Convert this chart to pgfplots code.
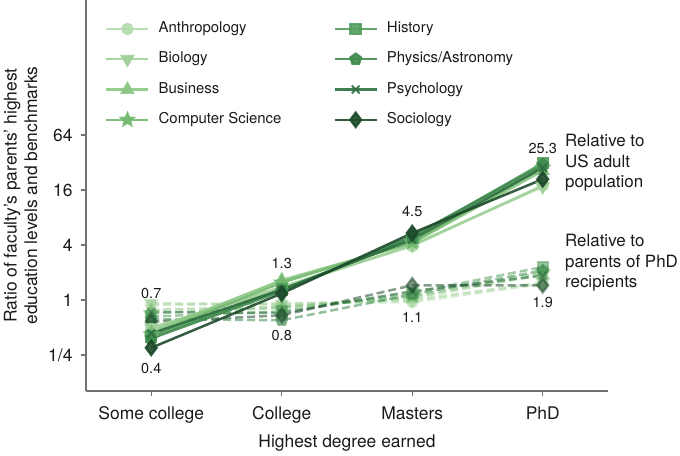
\documentclass[border=0pt]{standalone}
\usepackage{pgfplots}
\usepackage{pgfplotstable}
\pgfplotsset{compat=1.18}
\usepackage{fontspec}
\setmainfont{TeX Gyre Heros}
\usetikzlibrary{plotmarks}

\definecolor{cAnth}{HTML}{B4DCAE}
\definecolor{cBio}{HTML}{A0D199}
\definecolor{cBus}{HTML}{8AC684}
\definecolor{cCS}{HTML}{73B86F}
\definecolor{cHist}{HTML}{539E5E}
\definecolor{cPhys}{HTML}{3F8A4E}
\definecolor{cPsych}{HTML}{2E6E3F}
\definecolor{cSoc}{HTML}{1D4A2B}
\definecolor{spine}{HTML}{707070}
\definecolor{txt}{HTML}{1A1A1A}

\pgfdeclareplotmark{fstar}{%
 \pgfpathmoveto{\pgfpointpolar{90}{\pgfplotmarksize}}%
 \pgfpathlineto{\pgfpointpolar{126}{0.45\pgfplotmarksize}}%
 \pgfpathlineto{\pgfpointpolar{162}{\pgfplotmarksize}}%
 \pgfpathlineto{\pgfpointpolar{198}{0.45\pgfplotmarksize}}%
 \pgfpathlineto{\pgfpointpolar{234}{\pgfplotmarksize}}%
 \pgfpathlineto{\pgfpointpolar{270}{0.45\pgfplotmarksize}}%
 \pgfpathlineto{\pgfpointpolar{306}{\pgfplotmarksize}}%
 \pgfpathlineto{\pgfpointpolar{342}{0.45\pgfplotmarksize}}%
 \pgfpathlineto{\pgfpointpolar{18}{\pgfplotmarksize}}%
 \pgfpathlineto{\pgfpointpolar{54}{0.45\pgfplotmarksize}}%
 \pgfpathclose
 \pgfusepathqfillstroke}

% Relative to US adult population
\pgfplotstableread{
x Anth Bio Bus CS Hist Phys Psych Soc
0 0.48 0.50 0.45 0.42 0.40 0.38 0.43 0.30
1 1.40 1.35 1.65 1.55 1.30 1.25 1.30 1.18
2 3.9 4.0 4.2 4.3 4.8 5.0 4.6 5.4
3 18 17.5 26 28 31.5 30 28 21
}\usdata

% Relative to parents of PhD recipients
\pgfplotstableread{
x Anth Bio Bus CS Hist Phys Psych Soc
0 0.88 0.92 0.78 0.72 0.66 0.62 0.74 0.58
1 0.92 0.90 0.85 0.82 0.75 0.60 0.72 0.68
2 0.95 1.00 1.05 1.10 1.20 1.15 1.25 1.45
3 1.50 1.55 1.90 2.00 2.30 2.10 1.85 1.45
}\phddata

\pgfplotsset{
 fAnth/.style={color=cAnth, mark=*, mark size=5bp},
 fBio/.style={color=cBio, mark=triangle*, mark size=6bp, every mark/.append style={rotate=180}},
 fBus/.style={color=cBus, mark=triangle*, mark size=6bp},
 fCS/.style={color=cCS, mark=fstar, mark size=6bp},
 fHist/.style={color=cHist, mark=square*, mark size=5bp},
 fPhys/.style={color=cPhys, mark=pentagon*, mark size=5.5bp},
 fPsych/.style={color=cPsych, mark=x, mark size=5.5bp, every mark/.append style={line width=2bp}},
 fSoc/.style={color=cSoc, mark=diamond*, mark size=7bp},
 sol/.style={solid, line width=2.5bp, opacity=0.9},
 dsh/.style={dash pattern=on 8bp off 4bp, line width=2.5bp, opacity=0.55, every mark/.append style={solid}},
}

\begin{document}
\begin{tikzpicture}
\begin{axis}[
 scale only axis,
 width=522bp, height=391bp,
 xmin=-0.5, xmax=3.5,
 ymode=log, log basis y=2,
 ymin=0.101, ymax=1922,
 clip=false,
 axis x line*=bottom, axis y line*=left,
 axis line style={spine, line width=1.1bp},
 tick align=outside,
 major tick length=5bp,
 tick style={spine, line width=1.1bp},
 minor tick num=0,
 xtick={0,1,2,3},
 xticklabels={Some college, College, Masters, PhD},
 ytick={0.25,1,4,16,64},
 yticklabels={1/4,1,4,16,64},
 ticklabel style={font=\fontsize{17.5}{20}\selectfont, text=txt},
 xticklabel shift=7bp,
 yticklabel shift=5bp,
 xlabel={Highest degree earned},
 xlabel shift=5bp,
 xlabel style={font=\fontsize{17.5}{20}\selectfont, text=txt},
 ylabel={Ratio of faculty's parents' highest\\education levels and benchmarks},
 ylabel shift=4bp,
 ylabel style={font=\fontsize{17.5}{20.5}\selectfont, text=txt, align=center},
 legend columns=2,
 legend cell align=left,
 legend image code/.code={\draw[mark repeat=2,mark phase=2,#1] plot coordinates {(0bp,0bp) (21bp,0bp) (42bp,0bp)};},
 legend style={draw=none, fill=none, at={(axis description cs:0.0364,0.945)}, anchor=north west,
   font=\fontsize{15}{18}\selectfont, text=txt, inner sep=0pt,
   nodes={inner sep=0pt, text height=11bp, text depth=3.5bp},
   row sep=15.8bp, column sep=9bp,
   /tikz/every even column/.append style={column sep=52bp}},
]
% dashed: relative to parents of PhD recipients
\addplot[fAnth, dsh, forget plot] table[x=x, y=Anth] {\phddata};
\addplot[fBio, dsh, forget plot] table[x=x, y=Bio] {\phddata};
\addplot[fBus, dsh, forget plot] table[x=x, y=Bus] {\phddata};
\addplot[fCS, dsh, forget plot] table[x=x, y=CS] {\phddata};
\addplot[fHist, dsh, forget plot] table[x=x, y=Hist] {\phddata};
\addplot[fPhys, dsh, forget plot] table[x=x, y=Phys] {\phddata};
\addplot[fPsych, dsh, forget plot] table[x=x, y=Psych] {\phddata};
\addplot[fSoc, dsh, forget plot] table[x=x, y=Soc] {\phddata};
% solid: relative to US adult population
\addplot[fAnth, sol, forget plot] table[x=x, y=Anth] {\usdata};
\addplot[fBio, sol, forget plot] table[x=x, y=Bio] {\usdata};
\addplot[fBus, sol, forget plot] table[x=x, y=Bus] {\usdata};
\addplot[fCS, sol, forget plot] table[x=x, y=CS] {\usdata};
\addplot[fHist, sol, forget plot] table[x=x, y=Hist] {\usdata};
\addplot[fPhys, sol, forget plot] table[x=x, y=Phys] {\usdata};
\addplot[fPsych, sol, forget plot] table[x=x, y=Psych] {\usdata};
\addplot[fSoc, sol, forget plot] table[x=x, y=Soc] {\usdata};

\addlegendimage{fAnth, sol}\addlegendentry{Anthropology}
\addlegendimage{fHist, sol}\addlegendentry{History}
\addlegendimage{fBio, sol}\addlegendentry{Biology}
\addlegendimage{fPhys, sol}\addlegendentry{Physics/Astronomy}
\addlegendimage{fBus, sol}\addlegendentry{Business}
\addlegendimage{fPsych, sol}\addlegendentry{Psychology}
\addlegendimage{fCS, sol}\addlegendentry{Computer Science}
\addlegendimage{fSoc, sol}\addlegendentry{Sociology}

\begin{scope}[font=\fontsize{14.5}{17}\selectfont, text=txt]
\node at (axis cs:0,1.19) {0.7};
\node at (axis cs:0,0.18) {0.4};
\node at (axis cs:1,2.54) {1.3};
\node at (axis cs:1,0.41) {0.8};
\node at (axis cs:2,9.2) {4.5};
\node at (axis cs:2,0.64) {1.1};
\node at (axis cs:3,46) {25.3};
\node at (axis cs:3,0.93) {1.9};
\end{scope}
\node[anchor=west, align=left, inner sep=0pt, font=\fontsize{17}{20.5}\selectfont, text=txt] at (axis cs:3.17,31.6) {Relative to\\US adult\\population};
\node[anchor=west, align=left, inner sep=0pt, font=\fontsize{17}{20.5}\selectfont, text=txt] at (axis cs:3.17,2.54) {Relative to\\parents of PhD\\recipients};
\end{axis}
\pgfresetboundingbox
\path[use as bounding box] (-86bp,-65bp) rectangle (594bp,391bp);
\end{tikzpicture}
\end{document}
